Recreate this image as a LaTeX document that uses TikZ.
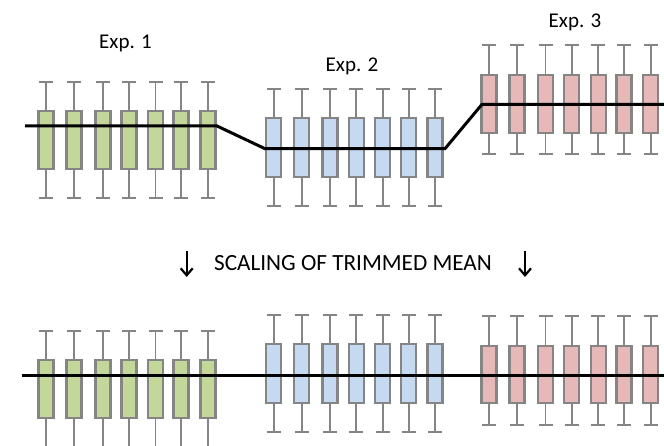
\documentclass[tikz,border=0pt]{standalone}
\usepackage{fontspec}
\setmainfont{Carlito}
\usetikzlibrary{arrows.meta}
\definecolor{gfill}{HTML}{C4D79B}
\definecolor{bfill}{HTML}{C5D9F1}
\definecolor{rfill}{HTML}{E6B9B8}
\definecolor{edgegray}{HTML}{858585}
\tikzset{
 boxp/.style={draw=edgegray, line width=2.1pt},
 whisk/.style={draw=edgegray, line width=1.7pt},
 meanline/.style={draw=black, line width=3pt},
 lbl/.style={font=\fontsize{21}{24}\selectfont, inner sep=0pt, anchor=base},
 biglbl/.style={font=\fontsize{23.2}{26}\selectfont, inner sep=0pt, anchor=base},
 downarrow/.style={-{Straight Barb[length=7pt,width=12pt,line width=2.2pt]}, line width=2.4pt}
}
% #1 xs, #2 line y, #3 fill, #4 box top off, #5 box bottom off, #6 cap top off, #7 cap bottom off
\newcommand\bxgroup[7]{%
 \foreach \xx in {#1} {
   \draw[whisk] ({\xx},{#2+(#6)}) -- ({\xx},{#2+(#7)});
   \draw[whisk] ({\xx-7},{#2+(#6)}) -- ({\xx+7},{#2+(#6)});
   \draw[whisk] ({\xx-7},{#2+(#7)}) -- ({\xx+7},{#2+(#7)});
   \filldraw[boxp, fill=#3] ({\xx-7.5},{#2+(#4)}) rectangle ({\xx+7.5},{#2+(#5)});
 }}
\begin{document}
\begin{tikzpicture}[x=1pt,y=-1pt]
\useasboundingbox (0,0) rectangle (664,446);
\clip (0,0) rectangle (664,446);
% top row
\bxgroup{46,74,103,129,155.5,181,208}{126}{gfill}{-15}{43}{-44}{72}
\bxgroup{273.7,301.7,330,356.3,382.7,408.7,435}{148.7}{bfill}{-30.7}{28.3}{-59.7}{57.3}
\bxgroup{489,517,545.5,571.7,598.2,624,650.7}{104.3}{rfill}{-29.3}{28.4}{-59.3}{49.7}
\coordinate (m0) at (25,126);
\coordinate (m1) at (217,126);
\coordinate (m2) at (265,148.7);
\coordinate (m3) at (445,148.7);
\coordinate (m4) at (482,104.3);
\coordinate (m5) at (664,104.3);
\draw[meanline] (m0) -- (m1) -- (m2) -- (m3) -- (m4) -- (m5);
% bottom row
\bxgroup{46,74,103,129,155.5,181,208}{375}{gfill}{-15}{43}{-44}{72}
\bxgroup{273.7,301.7,330,356.3,382.7,408.7,435}{375}{bfill}{-30.7}{28.3}{-59.7}{57.3}
\bxgroup{489,517,545.5,571.7,598.2,624,650.7}{375}{rfill}{-29.3}{28.4}{-59.3}{49.7}
\coordinate (n0) at (21.7,375);
\coordinate (n1) at (664,375);
\draw[meanline] (n0) -- (n1);
% labels
\node[lbl] (e1) at (125.5,49) {Exp. 1};
\node[lbl] (e2) at (352,71.3) {Exp. 2};
\node[lbl] (e3) at (575,27.5) {Exp. 3};
\node[biglbl] (sc) at (353,270.7) {SCALING OF TRIMMED MEAN};
\coordinate (a1s) at (186.7,251);
\coordinate (a1e) at (186.7,277);
\coordinate (a2s) at (525,251);
\coordinate (a2e) at (525,277);
\draw[downarrow] (a1s) -- (a1e);
\draw[downarrow] (a2s) -- (a2e);
\end{tikzpicture}
\end{document}
